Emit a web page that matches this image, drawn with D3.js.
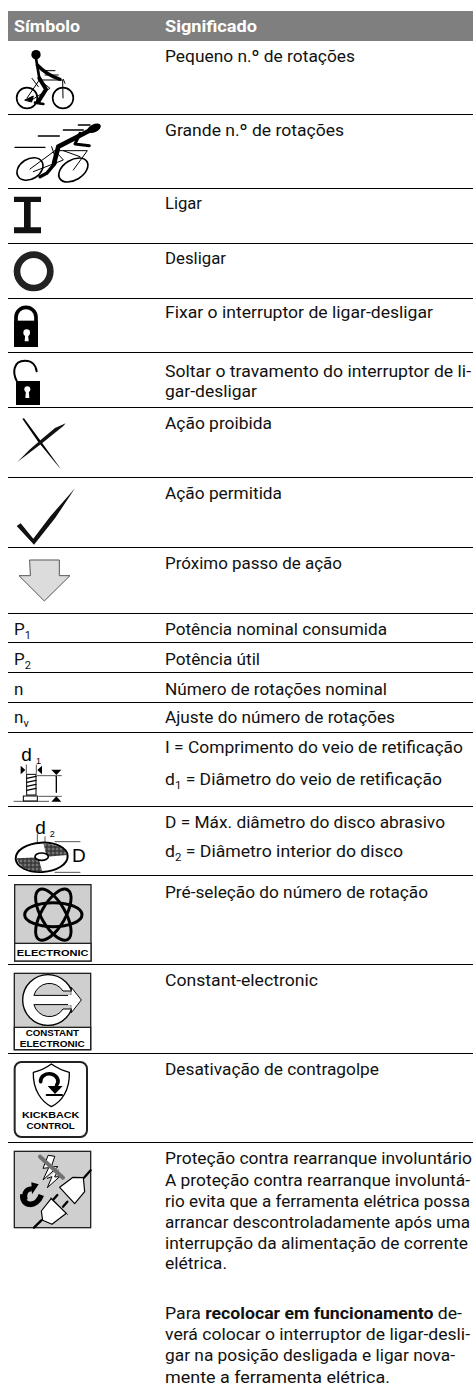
<!DOCTYPE html>
<html>
<head>
<meta charset="utf-8">
<script src="https://cdn.jsdelivr.net/npm/d3@7"></script>
<style>
html,body{margin:0;padding:0;background:#fff;}
svg{display:block;}
text{font-family:Roboto,"Noto Sans",sans-serif;}
</style>
</head>
<body>
<div id="chart"></div>
<script>
// table content, _x = subscript char, *...* = bold
var headerLabels = ["Símbolo", "Significado"];
var headerWidths = [66, 92];
var rowLines = [114, 188, 243, 298, 352, 407, 477, 547, 613, 642, 672, 702, 732, 806, 875, 964, 1053, 1142];

var meaningTexts = [
  "Pequeno n.º de rotações", "Grande n.º de rotações", "Ligar", "Desligar",
  "Fixar o interruptor de ligar-desligar",
  "Soltar o travamento do interruptor de li-", "gar-desligar",
  "Ação proibida", "Ação permitida", "Próximo passo de ação",
  "Potência nominal consumida", "Potência útil", "Número de rotações nominal",
  "Ajuste do número de rotações",
  "I = Comprimento do veio de retificação", "d_1 = Diâmetro do veio de retificação",
  "D = Máx. diâmetro do disco abrasivo", "d_2 = Diâmetro interior do disco",
  "Pré-seleção do número de rotação", "Constant-electronic", "Desativação de contragolpe",
  "Proteção contra rearranque involuntário",
  "A proteção contra rearranque involuntá-", "rio evita que a ferramenta elétrica possa",
  "arrancar descontroladamente após uma", "interrupção da alimentação de corrente", "elétrica.",
  "Para *recolocar em funcionamento* de-", "verá colocar o interruptor de ligar-desli-",
  "gar  na posição desligada e ligar nova-", "mente a ferramenta elétrica."
];
var meaningBaselines = [62, 136, 209, 264, 318, 377, 397, 429, 499, 569, 635, 665, 695, 723,
  753, 785, 828, 857, 898, 986, 1075, 1164, 1186, 1207, 1228, 1249, 1269, 1319, 1340, 1361, 1383];
var meaningWidths = [190, 179, 37, 61, 268, 306, 92, 107, 117, 177, 222, 95, 222, 230,
  298, 277, 280, 238, 263, 153, 214, 307, 305, 305, 305, 303, 62, 297, 305, 290, 225];

var symbolTexts = ["P_1", "P_2", "n", "n_v"];
var symbolBaselines = [635, 665, 695, 723];

var W = 473, H = 1393;
var xCol = {symbol: 14, meaning: 165};
var y = d3.scaleLinear().domain([0, H]).range([0, H]);

var svg = d3.select("#chart").append("svg").attr("width", W).attr("height", H);

// header band
svg.append("rect").attr("x", 8).attr("y", y(11)).attr("width", W - 8).attr("height", y(41) - y(11)).attr("fill", "#7f7f7f");
svg.selectAll(".head").data(headerLabels).enter().append("text")
  .attr("class", "head")
  .attr("x", function(d, i) { return i == 0 ? xCol.symbol : xCol.meaning; })
  .attr("y", y(32))
  .attr("font-size", 17).attr("font-weight", 700).attr("fill", "#fff")
  .attr("textLength", function(d, i) { return headerWidths[i]; })
  .attr("lengthAdjust", "spacingAndGlyphs")
  .text(function(d) { return d; });

// row rules
svg.selectAll(".rule").data(rowLines).enter().append("line")
  .attr("class", "rule").attr("x1", 8).attr("x2", W)
  .attr("y1", function(d) { return y(d) + 0.5; }).attr("y2", function(d) { return y(d) + 0.5; })
  .attr("stroke", "#000").attr("stroke-width", 1);

// writes one line, splitting _x and *bold* parts into tspans
function writeLine(sel, str) {
  var parts = str.split(/(_.|\*[^*]+\*)/).filter(function(p) { return p.length; });
  var shifted = false;
  parts.forEach(function(p) {
    var t = sel.append("tspan");
    if (p[0] == "_") {
      t.attr("dy", 4).attr("font-size", 11).text(p[1]);
      shifted = true;
    } else {
      if (shifted) { t.attr("dy", -4); shifted = false; }
      if (p[0] == "*") t.attr("font-weight", 700).text(p.slice(1, -1));
      else t.text(p);
    }
  });
}

svg.selectAll(".meaning").data(meaningTexts).enter().append("text")
  .attr("class", "meaning")
  .attr("x", xCol.meaning)
  .attr("y", function(d, i) { return y(meaningBaselines[i]); })
  .attr("font-size", 17).attr("fill", "#111")
  .attr("textLength", function(d, i) { return meaningWidths[i]; })
  .attr("lengthAdjust", "spacingAndGlyphs")
  .each(function(d) { writeLine(d3.select(this), d); });

svg.selectAll(".sym").data(symbolTexts).enter().append("text")
  .attr("class", "sym")
  .attr("x", xCol.symbol)
  .attr("y", function(d, i) { return y(symbolBaselines[i]); })
  .attr("font-size", 17).attr("fill", "#111")
  .each(function(d) { writeLine(d3.select(this), d); });

// icon helpers: coords are in zoomed (3x) px, relative to an origin
function zoomGroup(ox, oy) {
  return svg.append("g").attr("transform", "translate(" + ox + "," + oy + ") scale(0.33333)");
}
function p(g, d, fill, stroke, sw) {
  return g.append("path").attr("d", d).attr("fill", fill || "none")
    .attr("stroke", stroke || "none").attr("stroke-width", sw || 0)
    .attr("stroke-linecap", "round").attr("stroke-linejoin", "round");
}
function c(g, cx, cy, r, fill, stroke, sw) {
  return g.append("circle").attr("cx", cx).attr("cy", cy).attr("r", r)
    .attr("fill", fill || "none").attr("stroke", stroke || "none").attr("stroke-width", sw || 0);
}
function label(g, x, yy, str, size, anchor, weight, family) {
  return g.append("text").attr("x", x).attr("y", yy).text(str)
    .attr("font-size", size).attr("fill", "#000")
    .attr("text-anchor", anchor || "start").attr("font-weight", weight || 400)
    .style("font-family", family || "'Liberation Sans',sans-serif");
}

// slow cyclist
var g = zoomGroup(0, 0);
c(g, 108, 164, 14, "#000");
p(g, "M108 175 L118 235", "none", "#000", 8);
p(g, "M112 195 Q140 225 180 238", "none", "#000", 10);
p(g, "M118 235 L138 268 L115 305", "none", "#000", 12);
p(g, "M105 308 L130 312", "none", "#000", 8);
c(g, 81, 294, 31, "none", "#000", 5);
c(g, 189, 294, 31, "none", "#000", 5);
p(g, "M81 294 L118 240 L188 240 L189 294 M118 240 L150 265 L95 300", "none", "#000", 3);
p(g, "M96 235 L115 260 M130 212 L165 212 M135 225 L175 225 M190 238 L195 250", "none", "#000", 3);
p(g, "M75 300 L100 288 L95 305 Z", "#000", "#000", 3);

// fast cyclist
g.append("ellipse").attr("cx", 282).attr("cy", 385).attr("rx", 22).attr("ry", 12)
  .attr("transform", "rotate(-25 282 385)").attr("fill", "#000");
p(g, "M45 442 L135 442 M115 408 L178 408 M190 390 L250 390 M235 375 L270 375", "none", "#000", 4);
p(g, "M272 390 L175 440 L162 490", "none", "#000", 14);
p(g, "M240 400 L225 432 L268 437", "none", "#000", 9);
p(g, "M165 490 L140 520 L120 530", "none", "#000", 10);
[[90, 507], [220, 510]].forEach(function(w, i) {
  g.append("ellipse").attr("cx", w[0]).attr("cy", w[1]).attr("rx", i ? 48 : 42).attr("ry", 30)
    .attr("transform", "rotate(-32 " + w[0] + " " + w[1] + ")")
    .attr("fill", "none").attr("stroke", "#000").attr("stroke-width", 5);
});
p(g, "M90 507 L165 452 L262 452 L220 510 M165 452 L190 480 L100 515 M155 440 L165 470 M190 452 L240 470", "none", "#000", 3);

// on
p(g, "M42 590 H123 V606 H92 V682 H123 V700 H42 V682 H72 V606 H42 Z", "#111");
// off
c(g, 101, 814, 50, "none", "#222", 20);

// closed lock
p(g, "M48 968 V952 A30 30 0 0 1 108 952 V968", "none", "#000", 11);
g.append("rect").attr("x", 42).attr("y", 962).attr("width", 72).attr("height", 79).attr("fill", "#000");
c(g, 80, 998, 10, "#fff");
p(g, "M76 998 H84 L86 1024 H74 Z", "#fff");

// open lock
g = zoomGroup(0, 340);
p(g, "M50 122 C38 100 38 62 75 62 C95 62 108 75 110 94", "none", "#000", 6);
g.append("rect").attr("x", 48).attr("y", 123).attr("width", 72).attr("height", 72).attr("fill", "#000");
c(g, 82, 148, 9, "#fff");
p(g, "M78 150 H86 L88 174 H76 Z", "#fff");

// forbidden cross
p(g, "M67 236 L72 235 L120 300 L182 386 L176 380 L115 306 Z", "#000");
p(g, "M197 250 L190 258 L128 308 L52 366 L90 328 L122 300 L165 264 Z", "#111");
// allowed tick
p(g, "M50 558 L62 550 L100 596 L150 530 L225 445 L165 535 L102 614 Z", "#111");
// next step arrow
p(g, "M90 660 H178 V707 H210 L133 783 L57 707 H90 Z", "#dcdcdc", "#555", 3);

// shaft diameter
g = zoomGroup(8, 735);
label(g, 40, 78, "d", 57);
label(g, 84, 86, "1", 27);
p(g, "M38 92 L52 105 L38 118 Z M102 92 L88 105 L102 118 Z", "#000");
p(g, "M55 90 V115 M85 90 V115", "none", "#000", 2);
g.append("rect").attr("x", 56).attr("y", 118).attr("width", 28).attr("height", 62).attr("fill", "#fff").attr("stroke", "#000").attr("stroke-width", 3);
p(g, "M56 130 L84 124 M56 142 L84 136 M56 154 L84 148 M56 166 L84 160", "none", "#000", 4);
g.append("rect").attr("x", 46).attr("y", 183).attr("width", 42).attr("height", 15).attr("fill", "#fff").attr("stroke", "#000").attr("stroke-width", 3);
p(g, "M18 199 H122 M88 122 H160 M92 184 H160", "none", "#000", 2);
p(g, "M130 104 H160 L145 120 Z M130 200 H160 L145 184 Z", "#000");
p(g, "M145 124 V172", "none", "#000", 4);

// wheel diameter
g = zoomGroup(0, 680);
label(g, 106, 462, "d", 57);
label(g, 149, 470, "2", 27);
label(g, 216, 546, "D", 57);
p(g, "M165 485 H240 M165 577 H240 M112 462 V500 M135 470 V500", "none", "#000", 2);
g.append("ellipse").attr("cx", 125).attr("cy", 532).attr("rx", 78).attr("ry", 44)
  .attr("transform", "rotate(-3 125 532)").attr("fill", "#fff").attr("stroke", "#000").attr("stroke-width", 6);
var hatch = svg.append("defs").append("pattern").attr("id", "hatch").attr("width", 4).attr("height", 4)
  .attr("patternUnits", "userSpaceOnUse");
hatch.append("rect").attr("width", 4).attr("height", 4).attr("fill", "#333");
hatch.append("circle").attr("cx", 1).attr("cy", 1).attr("r", 1).attr("fill", "#ccc");
p(g, "M130 490 Q190 495 202 525 L140 530 Z", "url(#hatch)");
p(g, "M50 535 L115 532 L127 575 Q60 575 50 535 Z", "url(#hatch)");
g.append("ellipse").attr("cx", 125).attr("cy", 530).attr("rx", 20).attr("ry", 11).attr("fill", "#fff").attr("stroke", "#000").attr("stroke-width", 5);

// electronic box
function greyBox(g, x, yTop, w, hh) {
  g.append("rect").attr("x", x).attr("y", yTop).attr("width", w).attr("height", hh)
    .attr("fill", "#cfcfcf").attr("stroke", "#222").attr("stroke-width", 4);
}
g = zoomGroup(0, 680);
greyBox(g, 44, 614, 229, 229);
g.append("rect").attr("x", 44).attr("y", 790).attr("width", 229).attr("height", 53).attr("fill", "#fff").attr("stroke", "#222").attr("stroke-width", 4);
[0, 60, -60].forEach(function(a) {
  g.append("ellipse").attr("cx", 160).attr("cy", 704).attr("rx", 86).attr("ry", 36)
    .attr("transform", "rotate(" + a + " 160 704)")
    .attr("fill", "none").attr("stroke", "#000").attr("stroke-width", 9);
});
label(g, 158, 827, "ELECTRONIC", 27, "middle", 700).attr("textLength", 215).attr("lengthAdjust", "spacingAndGlyphs");

// constant electronic box
g = zoomGroup(8, 960);
greyBox(g, 19, 40, 229, 229);
g.append("rect").attr("x", 19).attr("y", 202).attr("width", 229).attr("height", 67).attr("fill", "#fff").attr("stroke", "#222").attr("stroke-width", 4);
c(g, 120, 120, 76, "#fff", "#000", 4);
p(g, "M78 105 A48 48 0 0 1 165 93 L190 93 L190 105 Z", "#cfcfcf", "#000", 3);
p(g, "M78 135 A48 48 0 0 0 165 147 L190 147 L190 135 Z", "#cfcfcf", "#000", 3);
p(g, "M190 93 V82 L220 120 L190 158 V147", "#fff", "#000", 3);
p(g, "M180 105 H195 V135 H180 Z", "#fff");
label(g, 133, 228, "CONSTANT", 27, "middle", 700).attr("textLength", 160).attr("lengthAdjust", "spacingAndGlyphs");
label(g, 133, 260, "ELECTRONIC", 27, "middle", 700).attr("textLength", 195).attr("lengthAdjust", "spacingAndGlyphs");

// kickback box
g = zoomGroup(0, 1000);
g.append("rect").attr("x", 44).attr("y", 186).attr("width", 217).attr("height", 225).attr("rx", 20)
  .attr("fill", "#fff").attr("stroke", "#222").attr("stroke-width", 6);
p(g, "M100 217 Q130 210 154 192 Q180 210 208 217 C210 270 185 305 154 320 C125 305 98 270 100 217 Z", "#fff", "#000", 4);
p(g, "M122 245 A26 22 0 1 1 170 255", "none", "#000", 11);
p(g, "M143 258 H188 L165 282 Z", "#000");
p(g, "M140 285 H186", "none", "#000", 6);
label(g, 152, 354, "KICKBACK", 28, "middle", 700).attr("textLength", 172).attr("lengthAdjust", "spacingAndGlyphs");
label(g, 152, 386, "CONTROL", 28, "middle", 700).attr("textLength", 145).attr("lengthAdjust", "spacingAndGlyphs");

// restart protection box
g = zoomGroup(8, 1145);
greyBox(g, 19, 19, 229, 229);
p(g, "M120 32 L105 70 L122 68 L105 105 L150 65 L130 65 L140 35 Z", "#fff", "#000", 3);
p(g, "M118 100 L132 95 L118 128 L155 95 L140 96 L150 75", "#fff", "#000", 3);
p(g, "M96 35 L165 98", "none", "#707070", 12);
p(g, "M45 148 C40 185 85 190 100 150", "none", "#000", 17).attr("stroke-linecap", "butt");
p(g, "M52 165 C45 140 60 130 72 132", "none", "#000", 15).attr("stroke-linecap", "butt");
p(g, "M70 112 L92 118 L72 148 Z", "#000");
p(g, "M228 98 L248 76 M100 226 L78 248", "none", "#000", 7);
p(g, "M155 127 L195 97 L226 98 L230 140 L200 176 Z", "#fff", "#000", 3.5);
p(g, "M178 170 L165 185 M148 150 L130 170", "none", "#000", 7);
p(g, "M100 198 L130 160 L175 205 L132 238 L104 226 Z", "#fff", "#000", 3.5);
p(g, "M128 160 L178 208", "none", "#000", 3);
</script>
</body>
</html>
